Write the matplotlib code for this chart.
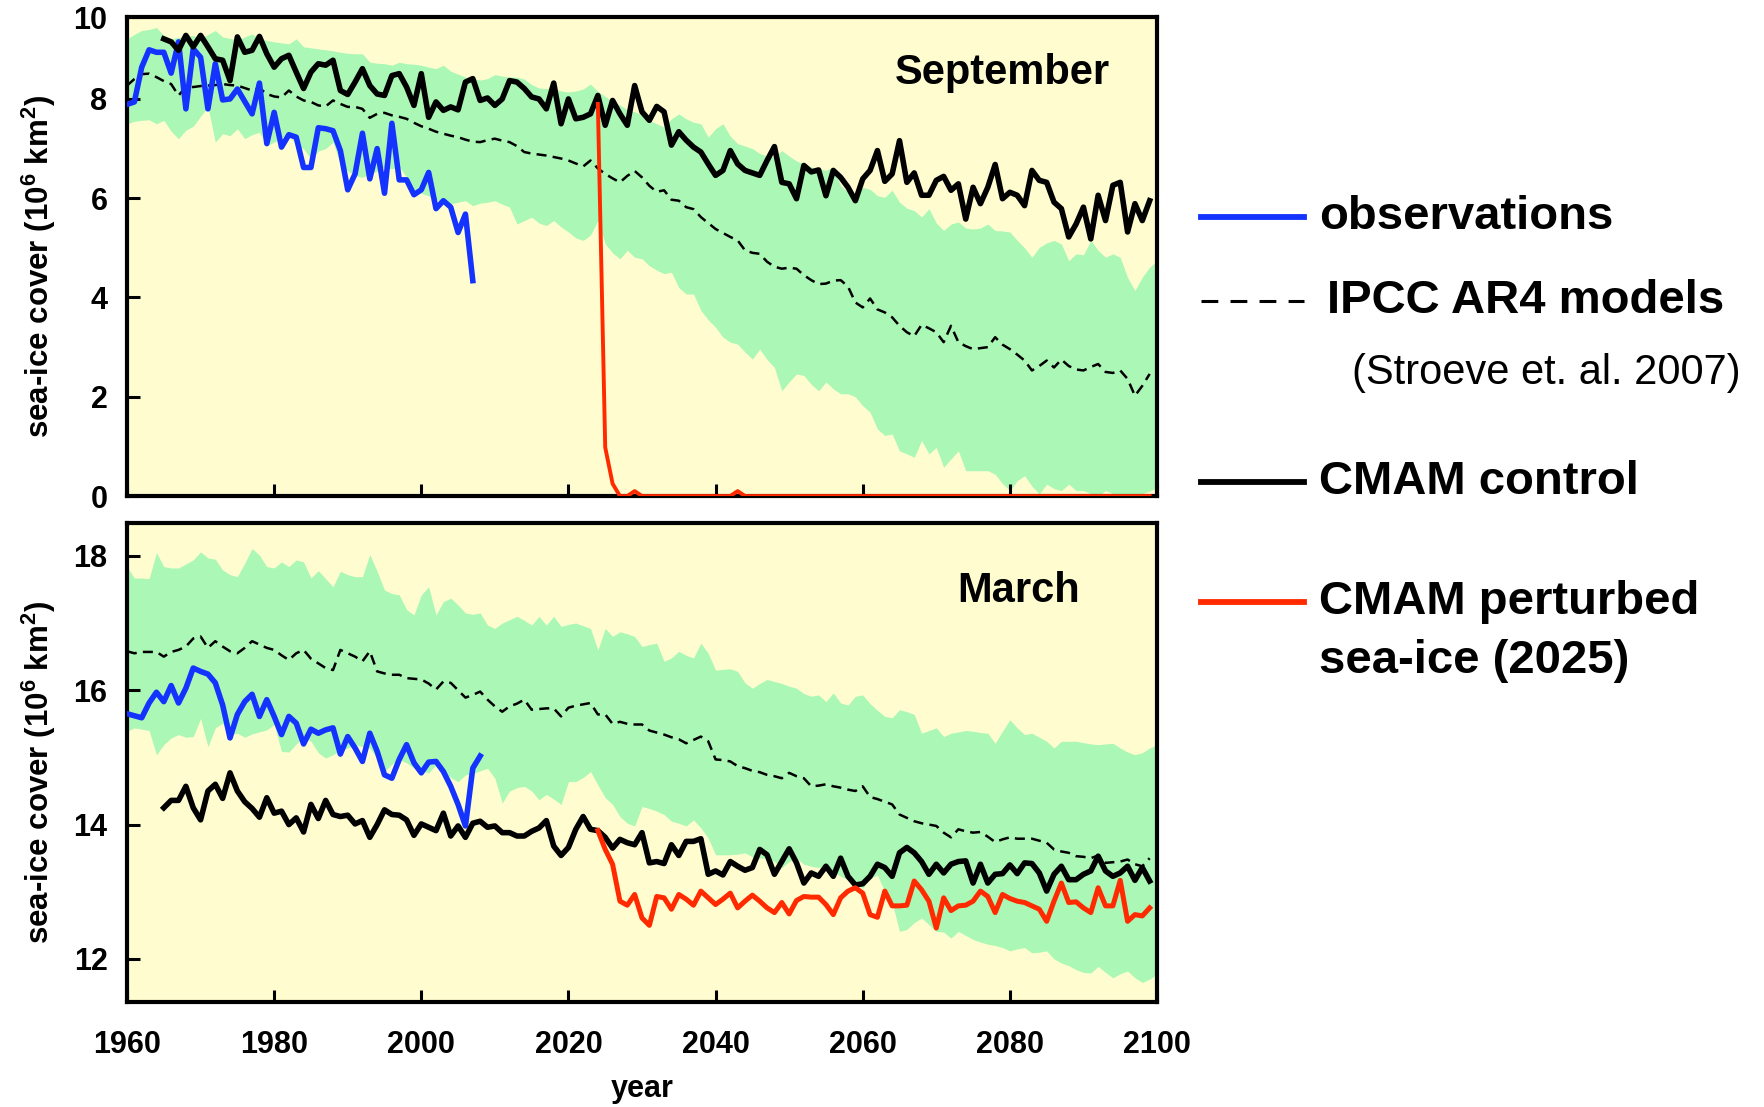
import numpy as np
import matplotlib
matplotlib.use("Agg")
import matplotlib.pyplot as plt
from matplotlib.lines import Line2D

plt.rcParams['font.family'] = ['Liberation Sans', 'DejaVu Sans']
plt.rcParams['font.weight'] = 'bold'
plt.rcParams['mathtext.fontset'] = 'custom'
plt.rcParams['mathtext.rm'] = 'Liberation Sans:bold'
plt.rcParams['mathtext.it'] = 'Liberation Sans:bold'
plt.rcParams['mathtext.bf'] = 'Liberation Sans:bold'
plt.rcParams['mathtext.default'] = 'rm'

# ---- September sea-ice extent (10^6 km^2) ----
sep_obs_years = np.arange(1960, 2008)
sep_obs = [7.89, 7.94, 8.64, 8.99, 8.94, 8.94, 8.52, 9.15, 7.80, 9.01,
           8.84, 7.80, 8.71, 7.98, 8.00, 8.20, 7.95, 7.70, 8.32, 7.10,
           7.73, 7.03, 7.28, 7.23, 6.62, 6.62, 7.42, 7.40, 7.36, 6.96,
           6.17, 6.49, 7.31, 6.39, 7.00, 6.10, 7.51, 6.37, 6.37, 6.07,
           6.17, 6.52, 5.79, 5.95, 5.82, 5.31, 5.68, 4.34]

ctl_years = np.arange(1965, 2100)
sep_ctl = [9.21, 9.15, 8.98, 9.28, 9.05, 9.28, 9.05, 8.81, 8.78, 8.37,
           9.25, 8.94, 8.98, 9.26, 8.91, 8.64, 8.81, 8.88, 8.54, 8.21,
           8.54, 8.71, 8.68, 8.78, 8.17, 8.09, 8.34, 8.61, 8.27, 8.10,
           8.07, 8.47, 8.51, 8.24, 7.87, 8.51, 7.63, 7.94, 7.77, 7.84,
           7.78, 8.34, 8.41, 7.97,
           8.02, 7.87, 8.00, 8.37, 8.34, 8.21, 8.04, 8.00, 7.80, 8.32,
           7.50, 8.00, 7.60, 7.63, 7.70, 8.07, 7.47, 7.97, 7.70, 7.47,
           8.27, 7.74, 7.57, 7.85, 7.74, 7.07, 7.34, 7.17, 7.03, 6.93,
           6.69, 6.46, 6.56, 6.96, 6.69, 6.56, 6.51, 6.46, 6.76, 7.04,
           6.32, 6.29, 5.99, 6.66, 6.53, 6.57,
           6.05, 6.56, 6.42, 6.22, 5.95, 6.39, 6.56, 6.96, 6.34, 6.49,
           7.16, 6.32, 6.51, 6.06, 6.06, 6.36, 6.44, 6.16, 6.29, 5.58,
           6.22, 5.89, 6.22, 6.68, 5.99, 6.12, 6.06, 5.85, 6.56, 6.36,
           6.32, 5.92, 5.79, 5.22, 5.48, 5.82, 5.18, 6.06, 5.55, 6.26,
           6.32, 5.32, 5.89, 5.55, 5.95]

pert_years = np.arange(2024, 2100)
sep_pert = [7.90, 0.98, 0.25, 0.00, 0.00, 0.10, 0.00, 0.00, 0.00, 0.00,
            0.00, 0.00, 0.00, 0.00, 0.00, 0.00, 0.00, 0.00, 0.00, 0.10,
            0.00, 0.00, 0.00, 0.00, 0.00, 0.00, 0.00, 0.00, 0.00, 0.00,
            0.00, 0.00, 0.00, 0.00, 0.00, 0.00, 0.00, 0.00, 0.00, 0.00,
            0.00, 0.00, 0.00, 0.00, 0.00, 0.00, 0.00, 0.00, 0.00, 0.00,
            0.00, 0.00, 0.00, 0.00, 0.00, 0.00, 0.00, 0.00, 0.00, 0.00,
            0.00, 0.00, 0.00, 0.00, 0.00, 0.00, 0.00, 0.00, 0.00, 0.00,
            0.00, 0.00, 0.00, 0.00, 0.00, 0.00]

ipcc_years = np.arange(1960, 2100)
sep_ipcc = [8.27, 8.40, 8.50, 8.51, 8.44, 8.36, 8.30, 8.07, 8.24, 8.24,
            8.26, 8.27, 8.28, 8.30, 8.28, 8.27, 8.22, 8.17, 8.22, 8.10,
            8.05, 8.03, 8.17, 8.05, 7.97, 7.94, 7.87, 7.85, 7.97, 7.90,
            7.84, 7.84, 7.80, 7.62, 7.70, 7.72, 7.67, 7.64, 7.60, 7.52,
            7.45, 7.40, 7.34, 7.30, 7.26, 7.23, 7.18, 7.14, 7.13, 7.17,
            7.20, 7.16, 7.13, 7.05, 6.93, 6.90, 6.88, 6.86, 6.83, 6.80,
            6.76, 6.70, 6.64, 6.76, 6.60, 6.49, 6.40, 6.32,
            6.45, 6.55, 6.42, 6.25, 6.13, 6.16, 5.97, 5.95, 5.82, 5.78,
            5.62, 5.50, 5.38, 5.30, 5.22, 5.15, 4.95, 4.90, 4.88, 4.72,
            4.62, 4.58, 4.60, 4.58, 4.45, 4.35, 4.27, 4.28, 4.34, 4.35,
            4.22, 3.90, 3.80, 3.98, 3.76, 3.70, 3.60, 3.43, 3.30, 3.22,
            3.45, 3.38, 3.30, 3.10, 3.43, 3.10, 3.02, 2.96, 2.98, 3.00,
            3.20, 3.05, 2.96, 2.85, 2.73, 2.53, 2.62, 2.73, 2.59, 2.75,
            2.62, 2.55, 2.53, 2.60, 2.66, 2.50, 2.48, 2.53, 2.36, 2.02,
            2.22, 2.46]

range_years = np.arange(1960, 2101)
sep_hi = [9.21, 9.30, 9.38, 9.40, 9.44, 9.28, 9.21, 9.24, 9.26, 9.28,
          9.21, 9.30, 9.38, 9.25, 9.22, 9.19, 9.25, 9.31, 9.22, 9.18,
          9.15, 9.13, 9.11, 9.21, 9.05, 9.03, 9.01, 8.99, 8.97, 8.94,
          8.92, 8.91, 8.91, 8.74, 8.72, 8.71, 8.68, 8.74, 8.71, 8.70,
          8.68, 8.64, 8.61, 8.68, 8.56, 8.50, 8.44, 8.41, 8.38, 8.41,
          8.49, 8.46, 8.44, 8.44, 8.40, 8.29, 8.22, 8.21, 8.21, 8.16,
          8.14, 8.16, 8.20, 8.30, 8.15, 8.05, 7.94, 7.88, 7.78, 7.74,
          7.68, 7.57, 7.50, 7.43, 7.60, 7.70, 7.60, 7.53, 7.50, 7.23,
          7.40, 7.50, 7.25, 7.10, 7.05, 7.00, 6.90, 6.85, 6.83, 6.96,
          6.85, 6.75, 6.69, 6.63, 6.60, 6.56, 6.63, 6.25, 6.12, 6.02,
          6.22, 6.18, 6.05, 6.02, 6.16, 5.92, 5.80, 5.75, 5.62, 5.79,
          5.50, 5.35, 5.48, 5.52, 5.40, 5.38, 5.40, 5.48, 5.35, 5.34,
          5.32, 5.15, 5.00, 4.81, 5.01, 5.10, 5.15, 5.08, 4.74, 4.88,
          4.86, 5.15, 4.95, 4.81, 4.88, 4.81, 4.40, 4.14, 4.41, 4.61,
          4.74]
sep_lo = [7.50, 7.55, 7.57, 7.58, 7.50, 7.57, 7.35, 7.20, 7.37, 7.45,
          7.65, 7.84, 7.13, 7.30, 7.26, 7.40, 7.20, 7.28, 7.33, 7.06,
          7.13, 7.22, 7.30, 7.06, 7.00, 6.79, 6.95, 7.00, 7.13, 6.69,
          6.55, 6.46, 6.42, 6.49, 6.55, 6.63, 6.59, 6.64, 6.42, 6.16,
          6.10, 6.05, 5.98, 5.89, 5.89, 5.92, 5.95, 5.85, 5.90, 5.92,
          5.95, 5.88, 5.82, 5.48, 5.55, 5.62, 5.50, 5.45, 5.55, 5.42,
          5.32, 5.20, 5.15, 5.26, 5.55, 5.08, 4.90, 4.78, 4.95, 4.81,
          4.78, 4.64, 4.55, 4.48, 4.51, 4.20, 4.07, 4.07, 3.74, 3.55,
          3.40, 3.20, 3.10, 3.06, 2.90, 2.76, 2.96, 2.75, 2.59, 2.12,
          2.30, 2.46, 2.43, 2.25, 2.12, 2.30, 2.16, 2.06, 2.06, 2.00,
          1.82, 1.69, 1.35, 1.22, 1.25, 0.91, 0.85, 0.78, 1.12, 0.85,
          0.98, 0.58, 0.75, 0.91, 0.51, 0.51, 0.51, 0.51, 0.44, 0.25,
          0.11, 0.31, 0.41, 0.20, 0.04, 0.24, 0.15, 0.11, 0.24, 0.11,
          0.11, 0.05, 0.00, 0.11, 0.05, 0.00, 0.00, 0.00, 0.05, 0.10,
          0.17]

# ---- March sea-ice extent (10^6 km^2) ----
mar_obs_years = np.arange(1960, 2009)
mar_obs = [15.65, 15.62, 15.59, 15.81, 15.97, 15.83, 16.07, 15.81, 16.03, 16.33,
           16.28, 16.24, 16.11, 15.78, 15.29, 15.64, 15.83, 15.94, 15.61, 15.86,
           15.61, 15.34, 15.61, 15.51, 15.20, 15.42, 15.36, 15.41, 15.44, 15.05,
           15.31, 15.14, 14.94, 15.36, 15.09, 14.74, 14.69, 14.97, 15.19, 14.92,
           14.77, 14.93, 14.94, 14.79, 14.57, 14.30, 13.98, 14.84, 15.02]

mar_ctl = [14.25, 14.36, 14.36, 14.57, 14.25, 14.07, 14.50, 14.60, 14.39, 14.77,
           14.50, 14.34, 14.24, 14.11, 14.40, 14.17, 14.20, 14.00, 14.10, 13.89,
           14.30, 14.09, 14.36, 14.15, 14.12, 14.14, 14.01, 14.06, 13.81, 14.00,
           14.22, 14.15, 14.14, 14.07, 13.84, 14.01, 13.96, 13.91, 14.17, 13.83,
           13.98, 13.81, 14.02, 14.05,
           13.96, 13.98, 13.88, 13.88, 13.83, 13.83, 13.90, 13.95, 14.06, 13.68,
           13.54, 13.66, 13.93, 14.12, 13.93, 13.91, 13.81, 13.65, 13.78, 13.73,
           13.70, 13.88, 13.43, 13.45, 13.42, 13.70, 13.54, 13.75, 13.75, 13.79,
           13.26, 13.31, 13.25, 13.45, 13.38, 13.32, 13.36, 13.63, 13.55, 13.26,
           13.45, 13.64, 13.43, 13.13, 13.28, 13.23, 13.38, 13.23, 13.50, 13.23,
           13.10, 13.12, 13.23, 13.41, 13.36, 13.23, 13.58, 13.66, 13.58, 13.45,
           13.26, 13.41, 13.28, 13.41, 13.45, 13.46, 13.13, 13.41, 13.13, 13.26,
           13.27, 13.40, 13.27, 13.43, 13.42, 13.28, 13.01, 13.26, 13.38, 13.18,
           13.18, 13.26, 13.31, 13.53, 13.31, 13.23, 13.28, 13.38, 13.17, 13.36,
           13.16]

mar_pert = [13.91, 13.63, 13.41, 12.86, 12.80, 12.96, 12.61, 12.50, 12.93, 12.91,
            12.74, 12.96, 12.89, 12.80, 13.01, 12.91, 12.81, 12.89, 12.98, 12.76,
            12.86, 12.95, 12.86, 12.76, 12.69, 12.84, 12.67, 12.87, 12.93, 12.92,
            12.92, 12.81, 12.66, 12.91, 13.01, 13.06, 12.98, 12.66, 12.62, 13.01,
            12.79, 12.79, 12.80, 13.16, 13.03, 12.86, 12.46, 12.91, 12.72, 12.79,
            12.80, 12.86, 13.01, 12.93, 12.69, 12.96, 12.90, 12.86, 12.84, 12.79,
            12.74, 12.56, 12.86, 13.13, 12.84, 12.85, 12.76, 12.69, 13.06, 12.79,
            12.79, 13.17, 12.56, 12.66, 12.64, 12.76]

mar_ipcc = [16.58, 16.55, 16.57, 16.57, 16.57, 16.50, 16.57, 16.60, 16.65, 16.77,
            16.80, 16.63, 16.73, 16.65, 16.58, 16.55, 16.63, 16.73, 16.68, 16.63,
            16.60, 16.52, 16.45, 16.55, 16.60, 16.47, 16.40, 16.33, 16.30, 16.60,
            16.55, 16.50, 16.43, 16.58, 16.28, 16.25, 16.23, 16.23, 16.18, 16.17,
            16.16, 16.10, 16.01, 16.13, 16.11, 16.00, 15.89, 15.93, 15.98, 15.86,
            15.76, 15.68, 15.76, 15.80, 15.86, 15.71, 15.72, 15.73, 15.73, 15.61,
            15.74, 15.77, 15.79, 15.81, 15.64, 15.64, 15.50, 15.53, 15.50, 15.49,
            15.49, 15.40, 15.37, 15.34, 15.30, 15.27, 15.21, 15.26, 15.31, 15.24,
            14.97, 14.96, 14.94, 14.87, 14.84, 14.80, 14.78, 14.74, 14.72, 14.69,
            14.77, 14.72, 14.69, 14.57, 14.58, 14.60, 14.57, 14.55, 14.52, 14.50,
            14.57, 14.41, 14.38, 14.34, 14.30, 14.15, 14.10, 14.05, 14.02, 14.00,
            13.98, 13.88, 13.81, 13.93, 13.90, 13.88, 13.89, 13.82, 13.74, 13.78,
            13.81, 13.79, 13.79, 13.79, 13.76, 13.73, 13.63, 13.60, 13.58, 13.53,
            13.52, 13.50, 13.54, 13.43, 13.44, 13.45, 13.48, 13.41, 13.38, 13.50]

mar_hi = [17.84, 17.67, 17.67, 17.66, 18.05, 17.84, 17.82, 17.82, 17.88, 17.94,
          18.06, 17.97, 17.95, 17.79, 17.72, 17.69, 17.89, 18.11, 18.01, 17.84,
          17.82, 17.91, 17.84, 17.94, 17.91, 17.67, 17.78, 17.66, 17.54, 17.77,
          17.72, 17.69, 17.69, 18.02, 17.77, 17.49, 17.44, 17.42, 17.20, 17.12,
          17.42, 17.54, 17.12, 17.32, 17.37, 17.27, 17.15, 17.13, 17.15, 16.97,
          16.92, 17.00, 17.05, 17.10, 17.04, 16.97, 17.10, 16.97, 17.10, 16.95,
          16.98, 17.00, 16.96, 16.92, 16.60, 16.92, 16.80, 16.87, 16.84, 16.80,
          16.65, 16.68, 16.70, 16.43, 16.48, 16.58, 16.52, 16.48, 16.70, 16.55,
          16.30, 16.31, 16.32, 16.28, 16.11, 16.03, 16.10, 16.16, 16.13, 16.10,
          16.06, 16.03, 15.95, 15.91, 15.93, 15.83, 15.96, 15.81, 15.78, 15.91,
          15.93, 15.80, 15.70, 15.61, 15.59, 15.71, 15.68, 15.64, 15.36, 15.40,
          15.44, 15.31, 15.36, 15.38, 15.40, 15.39, 15.37, 15.36, 15.21, 15.39,
          15.56, 15.44, 15.34, 15.36, 15.30, 15.24, 15.14, 15.24, 15.24, 15.24,
          15.22, 15.20, 15.19, 15.20, 15.21, 15.14, 15.08, 15.04, 15.07, 15.14,
          15.19]
mar_lo = [15.39, 15.44, 15.42, 15.40, 15.04, 15.19, 15.29, 15.34, 15.30, 15.31,
          15.58, 15.16, 15.44, 15.51, 15.34, 15.36, 15.30, 15.35, 15.38, 15.41,
          15.49, 15.09, 15.08, 15.20, 15.31, 15.24, 15.07, 14.99, 15.04, 15.10,
          15.14, 15.19, 15.16, 15.14, 14.99, 14.79, 14.90, 14.97, 14.92, 14.84,
          14.80, 14.77, 14.89, 14.80, 14.70, 14.64, 14.74, 14.76, 14.80, 14.84,
          14.69, 14.32, 14.50, 14.55, 14.57, 14.50, 14.37, 14.45, 14.38, 14.30,
          14.64, 14.64, 14.70, 14.79, 14.59, 14.40, 14.30, 14.12, 14.02, 13.98,
          14.27, 14.24, 14.20, 14.15, 14.05, 14.02, 13.98, 14.07, 13.95, 13.80,
          13.55, 13.55, 13.55, 13.56, 13.58, 13.52, 13.50, 13.50, 13.45, 13.36,
          13.45, 13.50, 13.41, 13.38, 13.36, 13.41, 13.30, 13.23, 13.18, 13.13,
          13.05, 13.20, 13.25, 13.00, 12.84, 12.41, 12.44, 12.54, 12.61, 12.51,
          12.41, 12.40, 12.31, 12.41, 12.35, 12.29, 12.25, 12.22, 12.20, 12.17,
          12.12, 12.15, 12.17, 12.09, 12.10, 12.12, 12.00, 11.94, 11.90, 11.84,
          11.80, 11.79, 11.89, 11.80, 11.72, 11.78, 11.82, 11.72, 11.65, 11.70,
          11.77]

BG = '#fffdd0'
GREEN = '#abf7b5'
BLUE = '#1433ff'
RED = '#ff2a00'
DASH = (0, (4, 2.5))

fig = plt.figure(figsize=(17.64, 11.07), dpi=100)
ax1 = fig.add_axes([0.072, 0.5519, 0.5839, 0.4327])
ax2 = fig.add_axes([0.072, 0.0949, 0.5839, 0.4327])


def style_axis(ax):
    ax.set_facecolor(BG)
    for sp in ax.spines.values():
        sp.set_linewidth(3)
    ax.tick_params(direction='in', length=9, width=2.2, labelsize=22)
    ax.tick_params(axis='x', pad=20)
    ax.tick_params(axis='y', pad=14)
    ax.set_xlim(1960, 2100)
    ax.set_xticks(np.arange(1960, 2101, 20))


# September panel
style_axis(ax1)
ax1.fill_between(range_years, sep_lo, sep_hi, color=GREEN, lw=0, zorder=1)
ax1.plot(ipcc_years, sep_ipcc, color='black', lw=1.8, linestyle=DASH, zorder=2)
ax1.plot(sep_obs_years, sep_obs, color=BLUE, lw=4.0, zorder=3)
ax1.plot(ctl_years, sep_ctl, color='black', lw=4.0, zorder=3)
ax1.plot(pert_years, sep_pert, color=RED, lw=2.8, zorder=3)
ax1.set_ylim(0, 9.65)
ax1.set_yticks([0, 2, 4, 6, 8, 9.65])
ax1.set_yticklabels(['0', '2', '4', '6', '8', '10'])
ax1.set_xticklabels([])
ax1.text(0.8495, 0.883, 'September', transform=ax1.transAxes, fontsize=30,
         fontweight='bold', ha='center', va='center')

# March panel
style_axis(ax2)
ax2.fill_between(range_years, mar_lo, mar_hi, color=GREEN, lw=0, zorder=1)
ax2.plot(ipcc_years, mar_ipcc, color='black', lw=1.8, linestyle=DASH, zorder=2)
ax2.plot(mar_obs_years, mar_obs, color=BLUE, lw=4.0, zorder=3)
ax2.plot(ctl_years, mar_ctl, color='black', lw=4.0, zorder=3)
ax2.plot(pert_years, mar_pert, color=RED, lw=3.6, zorder=3)
ax2.set_ylim(11.36, 18.49)
ax2.set_yticks([12, 14, 16, 18])
ax2.text(0.866, 0.858, 'March', transform=ax2.transAxes, fontsize=30,
         fontweight='bold', ha='center', va='center')

ylab = 'sea-ice cover (10$^{6}$ km$^{2}$)'
fig.text(0.022, 0.759, ylab, rotation=90, fontsize=22.5, fontweight='bold',
         ha='center', va='center')
fig.text(0.022, 0.302, ylab, rotation=90, fontsize=22.5, fontweight='bold',
         ha='center', va='center')
fig.text(0.364, 0.016, 'year', fontsize=22, fontweight='bold',
         ha='center', va='center')

# legend drawn by hand to the right of the panels
x0, x1, xt = 0.681, 0.739, 0.748
y_obs, y_ipcc, y_ref = 0.8037, 0.7278, 0.6628
y_ctl, y_pert, y_pert2 = 0.5643, 0.4559, 0.4026
fig.add_artist(Line2D([x0, x1], [y_obs, y_obs], color=BLUE, lw=4.2,
                      transform=fig.transFigure))
fig.add_artist(Line2D([x0, x1], [y_ipcc, y_ipcc], color='black', lw=2.2,
                      linestyle=(0, (5.5, 4)), transform=fig.transFigure))
fig.add_artist(Line2D([x0, x1], [y_ctl, y_ctl], color='black', lw=4.2,
                      transform=fig.transFigure))
fig.add_artist(Line2D([x0, x1], [y_pert, y_pert], color=RED, lw=4.2,
                      transform=fig.transFigure))

fs = 34
fig.text(xt, y_obs, 'observations', fontsize=fs, fontweight='bold', va='center')
fig.text(xt + 0.004, y_ipcc, 'IPCC AR4 models', fontsize=fs, fontweight='bold',
         va='center')
fig.text(0.7665, y_ref, '(Stroeve et. al. 2007)', fontsize=30,
         fontweight='normal', va='center')
fig.text(xt, y_ctl, 'CMAM control', fontsize=fs, fontweight='bold', va='center')
fig.text(xt, y_pert, 'CMAM perturbed', fontsize=fs, fontweight='bold', va='center')
fig.text(xt, y_pert2, 'sea-ice (2025)', fontsize=fs, fontweight='bold', va='center')

fig.savefig('out.png', dpi=100, facecolor='white')
